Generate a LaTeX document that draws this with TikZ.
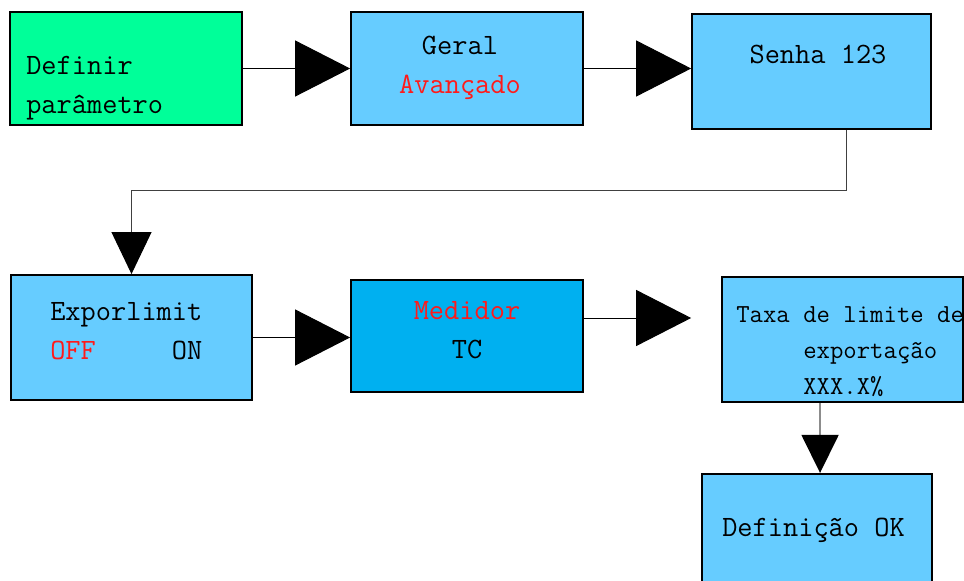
\documentclass[tikz,border=0pt]{standalone}
\usepackage{fontspec}
\usepackage{xcolor}
\usetikzlibrary{positioning,arrows.meta}
\definecolor{boxgreen}{HTML}{00FF99}
\definecolor{boxblue}{HTML}{66CCFF}
\definecolor{boxdeep}{HTML}{00B0F0}
\definecolor{txtred}{HTML}{FF1A1A}
\begin{document}
\begin{tikzpicture}[>={Triangle[length=1.375cm,width=1.4cm]},
  box/.style={draw,line width=1.3pt,fill=boxblue,minimum width=5.8cm,minimum height=2.8cm,inner sep=0pt},
  txt/.style={font=\fontsize{21}{27.7}\selectfont\ttfamily,inner sep=0pt},
  flow/.style={->,line width=0.7pt}]
\clip (0,0) rectangle (24.1,-14.525);
\node[box,fill=boxgreen,minimum height=2.825cm] (a) at (3.15,-1.7125){};
\node[box,minimum height=2.825cm,right=2.68cm of a] (b){};
\node[box,minimum width=5.975cm,minimum height=2.875cm,right=2.68cm of b,yshift=-0.075cm] (c){};
\node[box,minimum width=6.025cm,minimum height=3.125cm] (d) at (3.2875,-8.4375){};
\node[box,fill=boxdeep,right=2.43cm of d,yshift=0.0375cm] (e){};
\node[box,minimum width=6.025cm,minimum height=3.125cm,right=3.43cm of e,yshift=-0.0875cm] (f){};
\node[box,minimum width=5.75cm,minimum height=3.125cm,below=1.75cm of f,xshift=-0.6375cm] (g){};
% texts
\node[txt,align=left,anchor=west] (a1) at (0.65,-2.2){Definir\\parâmetro};
\node[txt,align=center] (b1) at (11.5,-1.7){Geral\\\textcolor{txtred}{Avançado}};
\node[txt] (c1) at (20.45,-1.35){Senha 123};
\node[txt,align=left,anchor=west] (d1) at (1.25,-8.2875){Exporlimit\\\textcolor{txtred}{OFF}\hphantom{XXXXX}ON};
\node[txt,align=center] (e1) at (11.675,-8.2625){\textcolor{txtred}{Medidor}\\TC};
\node[txt,font=\fontsize{18.5}{25.6}\selectfont\ttfamily,align=left,anchor=west] (f1) at (18.4,-8.8){Taxa de limite de\\\hphantom{XXXXX}exportação\\\hphantom{XXXXX}XXX.X\%};
\node[txt,anchor=west] (g1) at (18.05,-13.25){Definição OK};
% connectors
\draw[flow](a.east)--(a.east-|b.west);\draw[flow](b.east)--(b.east-|c.west);
\draw[flow,black!75,>={Triangle[length=1.05cm,width=1cm,color=black]}]([xshift=0.8625cm]c.south)--++(0,-1.525)-|(d.north);
\draw[flow](d.east)--(d.east-|e.west);
\draw[flow,shorten >=0.75cm]([yshift=0.45cm]e.east)--([yshift=0.45cm]e.east-|f.west);
\draw[flow,black!45,line width=1.2pt,>={Triangle[length=0.95cm,width=0.925cm,color=black]}]([xshift=-0.5625cm]f.south)--([xshift=-0.5625cm]f.south|-g.north);
\end{tikzpicture}
\end{document}
